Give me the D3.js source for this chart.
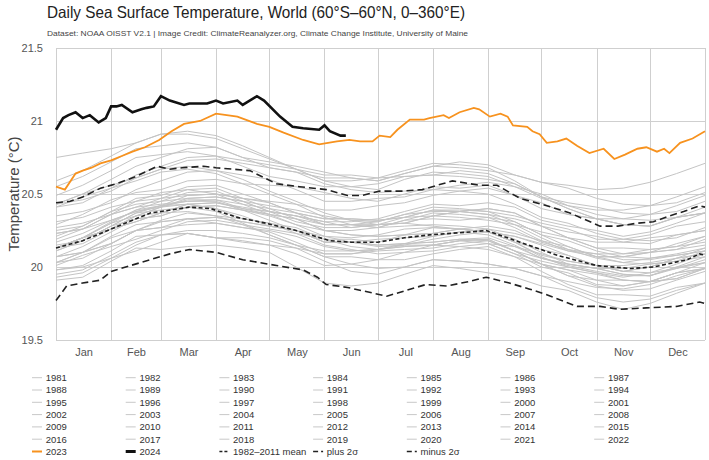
<!DOCTYPE html>
<html><head><meta charset="utf-8">
<script src="https://cdn.jsdelivr.net/npm/d3@7"></script>
<style>
body{margin:0;background:#fff;}
svg{display:block;font-family:"Liberation Sans",Arial,sans-serif;}
</style>
</head><body>
<svg id="chart" width="709" height="460"></svg>
<script>
// ---------------- DATA ----------------
const titleText = "Daily Sea Surface Temperature, World (60°S–60°N, 0–360°E)";
const subtitleText = "Dataset: NOAA OISST V2.1 | Image Credit: ClimateReanalyzer.org, Climate Change Institute, University of Maine";
const months = ["Jan","Feb","Mar","Apr","May","Jun","Jul","Aug","Sep","Oct","Nov","Dec"];
const monthStartDays = [0,31,59,90,120,151,181,212,243,273,304,334,365];
const yTicks = [19.5,20,20.5,21,21.5];

// day-of-year sample points for the grey years
const grayDays = [0,15,31,45,59,74,90,105,120,135,151,166,181,196,212,227,243,258,273,288,304,319,334,349,365];
const grayYears = [1981,1982,1983,1984,1985,1986,1987,1988,1989,1990,1991,1992,1993,1994,1995,1996,1997,1998,1999,2000,2001,2002,2003,2004,2005,2006,2007,2008,2009,2010,2011,2012,2013,2014,2015,2016,2017,2018,2019,2020,2021,2022];
const grayValues = [
 [null,null,null,null,null,null,null,null,null,null,null,null,null,null,null,null,20.16,20.09,20.00,19.96,19.88,19.87,19.90,19.96,19.99],
 [19.98,20.00,20.06,20.11,20.17,20.23,20.20,20.20,20.18,20.13,20.09,20.09,20.12,20.15,20.19,20.22,20.24,20.21,20.16,20.11,20.09,20.09,20.10,20.16,20.21],
 [20.23,20.26,20.32,20.38,20.42,20.43,20.40,20.35,20.28,20.25,20.21,20.17,20.14,20.15,20.15,20.14,20.12,20.07,20.02,19.94,19.87,19.84,19.85,19.91,19.97],
 [19.98,20.01,20.11,20.21,20.22,20.23,20.20,20.17,20.15,20.13,20.04,19.97,19.95,20.00,20.05,20.04,20.02,19.99,19.94,19.86,19.79,19.76,19.78,19.84,19.89],
 [19.91,19.93,20.04,20.13,20.12,20.14,20.15,20.13,20.10,20.00,19.89,19.87,19.89,19.95,20.01,19.99,19.96,19.93,19.87,19.84,19.76,19.71,19.75,19.82,19.89],
 [19.95,19.98,20.08,20.17,20.22,20.23,20.20,20.18,20.15,20.09,20.01,20.02,20.05,20.10,20.11,20.14,20.16,20.14,20.06,20.02,19.99,19.99,20.02,20.04,20.11],
 [20.13,20.20,20.31,20.39,20.42,20.45,20.46,20.40,20.38,20.35,20.29,20.29,20.29,20.30,20.35,20.34,20.32,20.29,20.20,20.12,20.06,20.03,20.02,20.04,20.07],
 [20.11,20.18,20.28,20.33,20.35,20.41,20.38,20.30,20.22,20.15,20.07,20.07,20.05,20.05,20.09,20.12,20.14,20.07,19.97,19.88,19.81,19.81,19.80,19.86,19.89],
 [19.93,19.96,20.06,20.15,20.22,20.25,20.25,20.23,20.20,20.15,20.11,20.11,20.12,20.14,20.15,20.18,20.19,20.11,20.06,20.01,19.97,19.94,19.94,19.99,20.05],
 [20.11,20.18,20.28,20.37,20.39,20.41,20.42,20.39,20.35,20.29,20.21,20.20,20.22,20.26,20.27,20.26,20.24,20.21,20.15,20.08,20.01,20.01,20.03,20.06,20.09],
 [20.13,20.20,20.26,20.31,20.37,20.43,20.44,20.40,20.36,20.33,20.25,20.22,20.21,20.22,20.23,20.26,20.28,20.25,20.17,20.12,20.09,20.05,20.05,20.08,20.11],
 [20.13,20.16,20.26,20.35,20.37,20.38,20.35,20.29,20.22,20.15,20.07,20.02,19.99,20.00,20.05,20.04,20.02,19.99,19.94,19.90,19.86,19.85,19.88,19.94,19.99],
 [20.03,20.10,20.16,20.25,20.32,20.37,20.35,20.33,20.30,20.23,20.15,20.12,20.09,20.10,20.15,20.18,20.16,20.09,20.04,20.00,19.96,19.93,19.96,19.99,20.03],
 [20.07,20.10,20.21,20.29,20.31,20.33,20.34,20.31,20.28,20.25,20.17,20.17,20.19,20.20,20.21,20.24,20.26,20.23,20.18,20.11,20.07,20.07,20.06,20.09,20.13],
 [20.17,20.23,20.32,20.38,20.41,20.43,20.40,20.33,20.30,20.27,20.19,20.14,20.12,20.14,20.15,20.18,20.19,20.11,20.02,19.98,19.95,19.91,19.90,19.96,20.03],
 [20.07,20.10,20.16,20.25,20.31,20.33,20.30,20.27,20.25,20.21,20.14,20.11,20.12,20.16,20.17,20.19,20.20,20.14,20.09,20.04,20.01,19.97,20.00,20.06,20.13],
 [20.15,20.18,20.28,20.37,20.42,20.49,20.50,20.47,20.45,20.43,20.39,20.39,20.42,20.44,20.49,20.52,20.54,20.49,20.44,20.36,20.33,20.29,20.28,20.34,20.37],
 [20.43,20.50,20.56,20.61,20.67,20.69,20.66,20.60,20.52,20.45,20.37,20.32,20.29,20.30,20.28,20.26,20.24,20.17,20.07,20.00,19.96,19.91,19.90,19.96,19.99],
 [20.03,20.06,20.16,20.25,20.27,20.29,20.30,20.27,20.24,20.17,20.09,20.09,20.11,20.12,20.13,20.16,20.18,20.11,20.02,19.94,19.91,19.91,19.90,19.92,19.99],
 [20.03,20.10,20.20,20.25,20.27,20.33,20.34,20.31,20.28,20.25,20.17,20.17,20.15,20.16,20.21,20.24,20.22,20.15,20.06,20.02,19.99,19.95,19.94,20.00,20.07],
 [20.13,20.20,20.26,20.35,20.41,20.46,20.46,20.43,20.40,20.33,20.25,20.25,20.27,20.32,20.33,20.32,20.34,20.31,20.22,20.14,20.07,20.07,20.10,20.12,20.19],
 [20.23,20.26,20.36,20.45,20.47,20.49,20.50,20.47,20.44,20.37,20.33,20.33,20.32,20.34,20.39,20.39,20.38,20.35,20.30,20.26,20.19,20.19,20.18,20.20,20.27],
 [20.31,20.34,20.41,20.45,20.51,20.53,20.50,20.43,20.36,20.33,20.29,20.29,20.31,20.36,20.38,20.38,20.36,20.33,20.28,20.20,20.13,20.09,20.12,20.14,20.21],
 [20.25,20.28,20.38,20.43,20.45,20.51,20.52,20.45,20.38,20.31,20.27,20.27,20.29,20.30,20.35,20.38,20.36,20.29,20.24,20.20,20.13,20.13,20.12,20.14,20.17],
 [20.21,20.28,20.38,20.47,20.49,20.55,20.56,20.50,20.44,20.37,20.29,20.29,20.27,20.32,20.37,20.36,20.34,20.27,20.18,20.14,20.07,20.03,20.06,20.08,20.11],
 [20.13,20.20,20.30,20.35,20.41,20.47,20.48,20.45,20.38,20.35,20.31,20.27,20.29,20.34,20.39,20.38,20.40,20.37,20.28,20.24,20.21,20.17,20.16,20.22,20.25],
 [20.27,20.30,20.36,20.41,20.43,20.45,20.45,20.39,20.32,20.25,20.17,20.17,20.15,20.16,20.17,20.19,20.18,20.11,20.02,19.98,19.91,19.87,19.90,19.92,19.99],
 [20.01,20.08,20.14,20.19,20.25,20.31,20.32,20.29,20.26,20.23,20.19,20.19,20.17,20.22,20.27,20.26,20.24,20.17,20.12,20.08,20.01,19.97,20.00,20.06,20.09],
 [20.13,20.20,20.26,20.31,20.37,20.43,20.44,20.41,20.38,20.35,20.31,20.31,20.33,20.38,20.43,20.42,20.44,20.41,20.32,20.28,20.25,20.21,20.24,20.30,20.37],
 [20.41,20.48,20.54,20.59,20.65,20.67,20.64,20.57,20.50,20.43,20.34,20.29,20.27,20.28,20.29,20.28,20.26,20.19,20.10,20.02,19.99,19.95,19.94,20.00,20.03],
 [20.07,20.14,20.24,20.33,20.35,20.41,20.42,20.39,20.36,20.29,20.25,20.22,20.21,20.22,20.23,20.26,20.24,20.17,20.08,20.04,20.01,19.97,19.96,20.02,20.09],
 [20.13,20.20,20.30,20.39,20.45,20.47,20.48,20.45,20.42,20.39,20.35,20.32,20.31,20.36,20.41,20.40,20.38,20.31,20.22,20.18,20.11,20.07,20.10,20.12,20.15],
 [20.19,20.26,20.36,20.41,20.47,20.53,20.54,20.47,20.40,20.37,20.33,20.33,20.32,20.34,20.35,20.38,20.40,20.37,20.28,20.20,20.17,20.17,20.20,20.22,20.25],
 [20.29,20.36,20.46,20.51,20.53,20.59,20.60,20.57,20.56,20.55,20.51,20.47,20.45,20.50,20.55,20.54,20.56,20.49,20.40,20.36,20.33,20.29,20.28,20.34,20.41],
 [20.43,20.46,20.52,20.61,20.67,20.73,20.74,20.71,20.68,20.65,20.61,20.61,20.59,20.64,20.69,20.68,20.66,20.63,20.58,20.56,20.53,20.54,20.58,20.64,20.71],
 [20.75,20.78,20.81,20.85,20.91,20.93,20.90,20.83,20.75,20.67,20.59,20.55,20.53,20.60,20.65,20.64,20.62,20.55,20.47,20.42,20.36,20.33,20.32,20.34,20.37],
 [20.43,20.50,20.60,20.69,20.75,20.81,20.82,20.75,20.68,20.65,20.57,20.53,20.51,20.52,20.53,20.52,20.50,20.43,20.34,20.30,20.23,20.19,20.22,20.28,20.31],
 [20.35,20.38,20.44,20.53,20.59,20.65,20.66,20.63,20.60,20.53,20.45,20.45,20.47,20.48,20.53,20.56,20.58,20.55,20.50,20.42,20.39,20.39,20.42,20.44,20.51],
 [20.55,20.62,20.72,20.81,20.83,20.85,20.82,20.75,20.72,20.69,20.65,20.61,20.59,20.64,20.69,20.72,20.70,20.63,20.58,20.54,20.47,20.43,20.42,20.48,20.55],
 [20.59,20.66,20.76,20.85,20.91,20.91,20.88,20.81,20.74,20.67,20.59,20.59,20.61,20.66,20.71,20.70,20.68,20.59,20.48,20.40,20.33,20.29,20.28,20.34,20.37],
 [20.41,20.44,20.54,20.63,20.69,20.75,20.76,20.69,20.62,20.59,20.55,20.55,20.57,20.62,20.63,20.62,20.60,20.57,20.48,20.40,20.33,20.33,20.36,20.38,20.45],
 [20.49,20.56,20.66,20.75,20.77,20.79,20.76,20.73,20.70,20.67,20.63,20.63,20.61,20.62,20.63,20.66,20.64,20.57,20.48,20.44,20.41,20.37,20.36,20.42,20.49]
];

// 1982-2011 mean and +/- 2 sigma
const meanDays   = [0,15,31,45,53,59,75,87,102,118,135,154,166,181,196,210,233,242,261,282,304,323,336,355,362,365];
const meanValues = [20.13,20.18,20.26,20.33,20.37,20.38,20.41,20.40,20.34,20.30,20.25,20.18,20.17,20.17,20.20,20.22,20.24,20.25,20.17,20.08,20.01,19.99,20.00,20.05,20.09,20.08];
const plusDays   = [0,8,15,25,34,45,57,64,71,83,90,109,124,137,152,164,172,182,195,206,223,238,248,261,276,289,306,316,327,336,345,353,362,365];
const plusValues = [20.44,20.45,20.48,20.54,20.57,20.62,20.69,20.67,20.68,20.69,20.68,20.66,20.57,20.55,20.53,20.49,20.49,20.52,20.52,20.53,20.59,20.56,20.56,20.47,20.42,20.37,20.28,20.28,20.30,20.31,20.35,20.38,20.42,20.41];
const minusDays  = [0,3,6,15,25,31,42,53,64,75,90,105,124,139,147,152,164,175,186,197,208,220,232,242,255,266,276,293,306,317,332,349,362,365];
const minusValues= [19.77,19.82,19.87,19.89,19.91,19.97,20.01,20.05,20.09,20.12,20.10,20.05,20.01,19.98,19.93,19.88,19.86,19.83,19.80,19.84,19.88,19.87,19.90,19.93,19.89,19.85,19.81,19.73,19.73,19.71,19.72,19.73,19.76,19.75];

// 2023 (orange)
const days2023   = [0,5,11,15,20,25,31,37,43,50,58,65,72,81,90,96,102,113,120,128,139,148,158,165,171,178,182,188,192,199,203,207,210,218,221,227,235,238,244,250,254,257,265,268,272,276,282,287,293,300,308,314,320,327,332,338,342,345,351,358,365];
const values2023 = [20.55,20.53,20.64,20.66,20.68,20.71,20.73,20.76,20.79,20.82,20.87,20.93,20.98,21.00,21.05,21.04,21.03,20.98,20.96,20.92,20.87,20.84,20.86,20.87,20.86,20.86,20.90,20.89,20.94,21.01,21.01,21.01,21.02,21.04,21.02,21.06,21.09,21.08,21.03,21.05,21.03,20.97,20.96,20.93,20.91,20.85,20.86,20.88,20.83,20.78,20.81,20.74,20.77,20.81,20.82,20.79,20.81,20.78,20.85,20.88,20.93];

// 2024 (black)
const days2024   = [0,4,7,11,15,19,24,28,31,34,37,43,48,51,55,59,64,72,75,80,85,90,94,102,105,113,117,126,133,139,148,151,154,160,163];
const values2024 = [20.94,21.02,21.04,21.06,21.02,21.04,20.99,21.02,21.10,21.10,21.11,21.06,21.08,21.09,21.10,21.17,21.14,21.11,21.12,21.12,21.12,21.14,21.12,21.14,21.11,21.17,21.14,21.03,20.96,20.95,20.94,20.97,20.93,20.90,20.90];

const specialLabels = ["2023","2024","1982–2011 mean","plus 2σ","minus 2σ"];

// ---------------- DRAW ----------------
const svg = d3.select("#chart");
const L = 56, R = 705, T = 48, B = 340;
const x = d3.scaleLinear().domain([0,365]).range([L,R]);
const y = d3.scaleLinear().domain([19.5,21.5]).range([B,T]);

// title
svg.append("text").attr("x",47).attr("y",17.5).attr("font-size",16.5).attr("fill","#222")
  .attr("textLength",418).attr("lengthAdjust","spacingAndGlyphs").text(titleText);
svg.append("text").attr("x",47).attr("y",36).attr("font-size",8).attr("fill","#444")
  .attr("textLength",421).attr("lengthAdjust","spacingAndGlyphs").text(subtitleText);

// grid
const grid = svg.append("g").attr("stroke","#cfcfcf").attr("stroke-width",1).attr("shape-rendering","crispEdges");
grid.selectAll("line.h").data(yTicks).join("line").attr("class","h")
  .attr("x1",L).attr("x2",R).attr("y1",d=>Math.round(y(d))+0.5).attr("y2",d=>Math.round(y(d))+0.5);
grid.selectAll("line.v").data(monthStartDays).join("line").attr("class","v")
  .attr("x1",d=>Math.round(x(d))+0.5).attr("x2",d=>Math.round(x(d))+0.5).attr("y1",T).attr("y2",B);

// axes
const yAxis = svg.append("g").attr("transform",`translate(${L-10},0)`)
  .call(d3.axisLeft(y).tickValues(yTicks).tickSize(0).tickFormat(d3.format("")));
yAxis.select(".domain").remove();
yAxis.selectAll("text").attr("font-size",11).attr("fill","#555").attr("font-family","Liberation Sans, Arial, sans-serif");

const midDays = months.map((m,i)=> (monthStartDays[i]+monthStartDays[i+1])/2);
const xAxis = svg.append("g").attr("transform",`translate(0,${B+5})`)
  .call(d3.axisBottom(x).tickValues(midDays).tickSize(0).tickFormat((d,i)=>months[i]));
xAxis.select(".domain").remove();
xAxis.selectAll("text").attr("font-size",11).attr("fill","#555").attr("font-family","Liberation Sans, Arial, sans-serif");

svg.append("text").attr("transform",`translate(14,${(T+B)/2}) rotate(-90)`)
  .attr("text-anchor","middle").attr("dy","0.35em").attr("font-size",15).attr("fill","#444").text("Temperature (°C)");

// lines
const line = d3.line().defined(d=>d[1]!=null).x(d=>x(d[0])).y(d=>y(d[1]));
const plot = svg.append("g");
plot.selectAll("path.gray").data(grayValues).join("path").attr("class","gray")
  .attr("d",vals=>line(grayDays.map((d,i)=>[d,vals[i]])))
  .attr("fill","none").attr("stroke","#c4c4c4").attr("stroke-width",1);

const zipped = (ds,vs)=>ds.map((d,i)=>[d,vs[i]]);
plot.append("path").attr("d",line(zipped(plusDays,plusValues))).attr("fill","none")
  .attr("stroke","#222").attr("stroke-width",1.6).attr("stroke-dasharray","7,4");
plot.append("path").attr("d",line(zipped(minusDays,minusValues))).attr("fill","none")
  .attr("stroke","#222").attr("stroke-width",1.6).attr("stroke-dasharray","7,4");
plot.append("path").attr("d",line(zipped(meanDays,meanValues))).attr("fill","none")
  .attr("stroke","#222").attr("stroke-width",1.6).attr("stroke-dasharray","4,2.5");
plot.append("path").attr("d",line(zipped(days2023,values2023))).attr("fill","none")
  .attr("stroke","#f7921e").attr("stroke-width",1.8);
plot.append("path").attr("d",line(zipped(days2024,values2024))).attr("fill","none")
  .attr("stroke","#111").attr("stroke-width",2.6);

// legend
const items = grayYears.map(yr=>({label:String(yr),stroke:"#c8c8c8",w:1,dash:null}))
  .concat([
    {label:specialLabels[0],stroke:"#f7921e",w:2,dash:null},
    {label:specialLabels[1],stroke:"#111",w:3,dash:null},
    {label:specialLabels[2],stroke:"#222",w:1.6,dash:"3,2"},
    {label:specialLabels[3],stroke:"#222",w:1.6,dash:"5,3"},
    {label:specialLabels[4],stroke:"#222",w:1.6,dash:"5,3"}
  ]);
const lg = svg.append("g");
const item = lg.selectAll("g").data(items).join("g")
  .attr("transform",(d,i)=>`translate(${32+93.7*(i%7)},${377.7+12.3*Math.floor(i/7)})`);
item.append("line").attr("x1",0).attr("x2",10).attr("y1",0).attr("y2",0)
  .attr("stroke",d=>d.stroke).attr("stroke-width",d=>d.w).attr("stroke-dasharray",d=>d.dash);
item.append("text").attr("x",13.7).attr("y",3.3).attr("font-size",9.5).attr("fill","#333").text(d=>d.label);
</script>
</body></html>
